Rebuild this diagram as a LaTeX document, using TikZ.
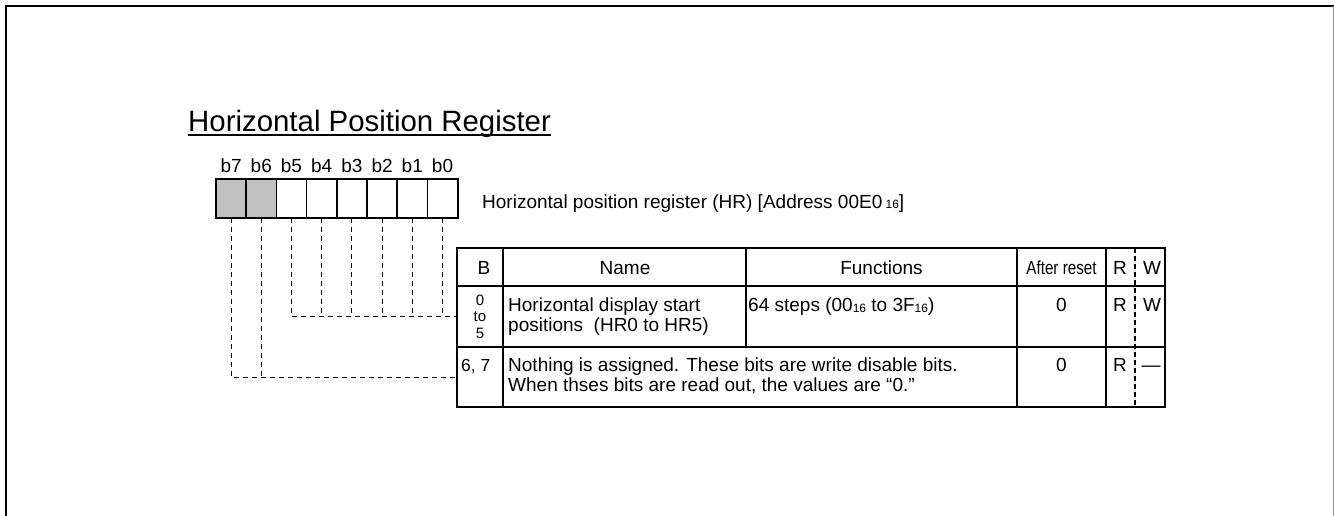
\documentclass[tikz,border=0pt]{standalone}
\usepackage{fontspec}
\setmainfont{Liberation Sans}
\newcommand\bodyfont{\fontsize{19}{20}\selectfont}
\newcommand\stackfont{\fontsize{15}{16.6}\selectfont}
\newcommand\titlefont{\fontsize{29.4}{34}\selectfont}
\newcommand\subs[1]{\raisebox{-0.5pt}{\fontsize{12}{12}\selectfont #1}}
\definecolor{regfill}{HTML}{C0C0C0}
\begin{document}
\begin{tikzpicture}[x=1pt,y=-1pt,
  cell/.style={draw, line width=1.5pt, minimum width=30.2pt, minimum height=38.5pt, inner sep=0pt, outer sep=0pt},
  conn/.style={line width=0.9pt, dash pattern=on 5pt off 4pt},
  tline/.style={line width=2.6pt},
  rwdash/.style={line width=1.6pt, dash pattern=on 5pt off 3pt},
  txt/.style={inner sep=0pt, font=\bodyfont},
  slot/.style={inner sep=0pt, outer sep=0pt}]
\useasboundingbox (0,0) rectangle (1334,515);
% frame
\draw[line width=2.4pt] (6,516) -- (6,6) -- (1334,6);
\draw[line width=1pt, black!45] (1333,6) -- (1333,516);
% title
\node[anchor=base west, inner sep=0pt, font=\titlefont] (title) at (188,131.5) {Horizontal Position Register};
\draw[line width=2pt] ([yshift=-3.5pt]title.base west) -- ([yshift=-3.5pt]title.base east);
% register cells
\foreach \i in {0,...,7}{
  \pgfmathtruncatemacro\b{7-\i}
  \ifnum\b>5
    \node[cell, fill=regfill] (c\b) at (231.1+30.2*\i,198.5) {};
  \else
    \node[cell] (c\b) at (231.1+30.2*\i,198.5) {};
  \fi
  \node[txt, anchor=base] (l\b) at ([yshift=6.3pt]c\b.north) {b\b};
}
\draw[line width=2.2pt] (c7.north west) rectangle (c0.south east);
\node[txt, anchor=base west] (addr) at (482,208) {Horizontal position register (HR) [Address 00E0\,\subs{16}]};
% table
\draw[tline] (457,248) rectangle (1165,407);
\draw[tline] (457,286) -- (1165,286);
\draw[tline] (457,347) -- (1165,347);
\draw[tline] (503,248) -- (503,407);
\draw[tline] (746,248) -- (746,347);
\draw[tline] (1017,248) -- (1017,407);
\draw[tline] (1106,248) -- (1106,407);
\draw[rwdash] (1135,248) -- (1135,407);
\node[slot, minimum width=46pt, minimum height=61pt] (r1b) at (480,316.5) {};
\node[slot, minimum width=46pt, minimum height=60pt] (r2b) at (480,377) {};
% header
\node[txt, anchor=base] (hB) at (484,274) {B};
\node[txt, anchor=base] (hName) at (625,274) {Name};
\node[txt, anchor=base] (hFun) at (881.5,274) {Functions};
\node[txt, anchor=base, xscale=0.8] (hAR) at (1061.5,274) {After reset};
\node[txt, anchor=base] (hR) at (1120,274) {R};
\node[txt, anchor=base] (hW) at (1152,274) {W};
% row 1
\node[inner sep=0pt, align=center, font=\stackfont, anchor=center] (b05) at (480,316.5) {0\\to\\5};
\node[txt, anchor=base west] (n1a) at (508,311.7) {Horizontal display start};
\node[txt, anchor=base west] (n1b) at (508,331.7) {positions\ \ (HR0 to HR5)};
\node[txt, anchor=base west] (f1) at (748,311.7) {64 steps (00\subs{16} to 3F\subs{16})};
\node[txt, anchor=base] (a1) at (1061.5,311.7) {0};
\node[txt, anchor=base] (r1) at (1120,311.7) {R};
\node[txt, anchor=base] (w1) at (1152,311.7) {W};
% row 2
\node[txt, anchor=base west, font=\fontsize{17.5}{20}\selectfont] (b67) at (461,371.7) {6, 7};
\node[txt, anchor=base west] (n2a) at (508,371.7) {Nothing is assigned. These bits are write disable bits.};
\node[txt, anchor=base west] (n2b) at (508,391.7) {When thses bits are read out, the values are “0.”};
\node[txt, anchor=base] (a2) at (1061.5,371.7) {0};
\node[txt, anchor=base] (r2) at (1120,371.7) {R};
\node[txt, anchor=base] (w2) at (1151,371.7) {—};
% connectors
\draw[conn] (c5.south) |- (r1b.west);
\foreach \c in {4,...,0}{\draw[conn] (c\c.south) -- (c\c.south |- r1b.west);}
\draw[conn] (c7.south) |- (r2b.west);
\draw[conn] (c6.south) -- (c6.south |- r2b.west);
\end{tikzpicture}
\end{document}
